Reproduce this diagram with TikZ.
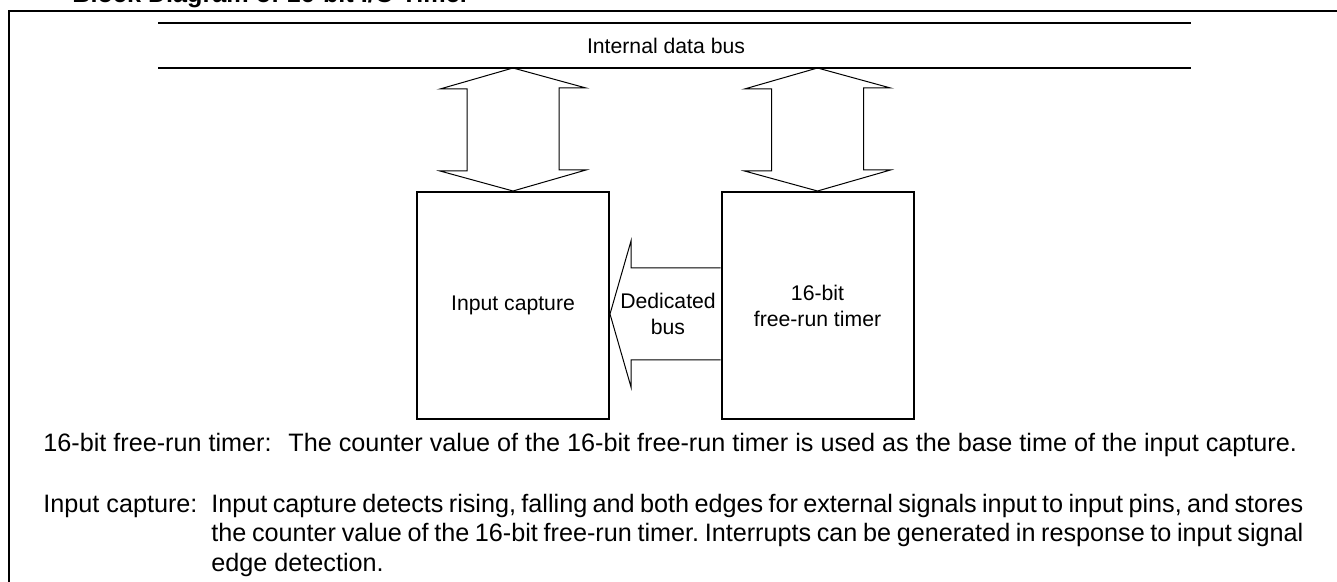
\documentclass[tikz,border=0pt]{standalone}
\usepackage{fontspec}
\setmainfont{Liberation Sans}
\usetikzlibrary{calc}
\frenchspacing

\begin{document}
\begin{tikzpicture}[x=0.5pt,y=-0.5pt,
  block/.style={draw,line width=1pt,minimum width=96pt,minimum height=113.5pt,align=center,font=\fontsize{10.6}{13}\selectfont},
  barrow/.style={draw,line width=0.5pt,line join=miter},
  busline/.style={line width=1.3pt},
  desc/.style={anchor=base west,inner sep=0pt,font=\fontsize{12.6}{14.75}\selectfont}]
\useasboundingbox (0,0) rectangle (1337,582);
\draw[line width=1.3pt] (9,11) rectangle (1400,650);
\node[anchor=base west,inner sep=0pt,font=\bfseries\fontsize{12.6}{15}\selectfont] (title) at (72,3) {Block Diagram of 16-bit I/O Timer};
\coordinate (busbot) at (674,68);
\draw[busline] (158,23) -- (1191,23);
\draw[busline] (158,68) -- (1191,68);
\node[font=\fontsize{10.6}{13}\selectfont] (buslbl) at (666,46) {Internal data bus};
\node[block] (icap) at (513,305.5) {Input capture};
\node[block] (frt) at (817.5,305.5) {16-bit\\free-run timer};
\draw[barrow] (icap.north |- busbot) -- ++(-73,21) -- ++(27,0) -- ++(0,82) -- ++(-27,0) -- (icap.north)
  -- ++(73,-21) -- ++(-27,0) -- ++(0,-82) -- ++(27,0) -- cycle;
\draw[barrow] (frt.north |- busbot) -- ++(-73,21) -- ++(27,0) -- ++(0,82) -- ++(-27,0) -- (frt.north)
  -- ++(73,-21) -- ++(-27,0) -- ++(0,-82) -- ++(27,0) -- cycle;
\coordinate (dtip) at ($(icap.east)+(0,8.5)$);
\draw[barrow] ($(frt.west |- dtip)+(0,-46)$) -- ($(dtip)+(21,-46)$) -- ++(0,-27) -- (dtip)
  -- ++(21,73) -- ++(0,-27) -- ($(frt.west |- dtip)+(0,46)$);
\node[font=\fontsize{10.6}{13}\selectfont,align=center] (dedlbl) at ($(dtip)+(58,0)$) {Dedicated\\bus};
\node[desc] (lbltimer) at (43,451) {16-bit free-run timer:};
\node[desc] (txttimer) at (288,451) {The counter value of the 16-bit free-run timer is used as the base time of the input capture.};
\node[desc] (lblicap) at (43,512) {Input capture:};
\node[desc,text width=546pt,align=justify] (txticap) at (211,512) {Input capture detects rising, falling and both edges for external signals input to input pins, and stores\linebreak the counter value of the 16-bit free-run timer. Interrupts can be generated in response to input signal\linebreak edge detection.};
\end{tikzpicture}
\end{document}
